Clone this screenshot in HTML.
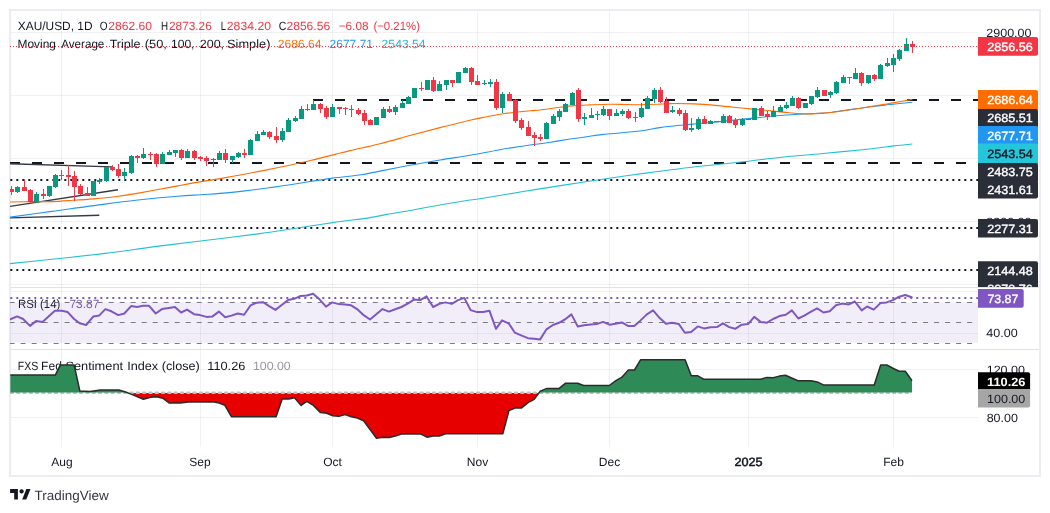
<!DOCTYPE html>
<html lang="en"><head><meta charset="utf-8"><title>XAU/USD chart</title>
<style>
html,body{margin:0;padding:0;background:#ffffff;}
body{width:1050px;height:513px;overflow:hidden;font-family:"Liberation Sans", sans-serif;}
svg{display:block;}
svg text{text-rendering:geometricPrecision;filter:url(#aa);}
</style></head><body>
<svg width="1050" height="513" viewBox="0 0 1050 513" font-family='"Liberation Sans", sans-serif' font-size="12">
<defs>
<clipPath id="cpMain"><rect x="10" y="10" width="968" height="277"/></clipPath>
<clipPath id="cpRsi"><rect x="10" y="288" width="968" height="61"/></clipPath>
<clipPath id="cpSent"><rect x="10" y="350" width="968" height="96.5"/></clipPath>
<clipPath id="cpAxisMain"><rect x="978" y="10" width="62" height="277"/></clipPath>
<clipPath id="cpUp"><rect x="0" y="340" width="1050" height="52.6"/></clipPath>
<clipPath id="cpDn"><rect x="0" y="393" width="1050" height="60"/></clipPath>
<filter id="aa" x="-5%" y="-50%" width="110%" height="200%" color-interpolation-filters="sRGB"><feOffset dx="0" dy="0"/></filter>
</defs>
<rect width="1050" height="513" fill="#ffffff"/>
<g stroke="#2a2e39" stroke-opacity="0.065" stroke-width="1" shape-rendering="crispEdges">
<line x1="61.5" y1="10" x2="61.5" y2="446.5"/>
<line x1="200.5" y1="10" x2="200.5" y2="446.5"/>
<line x1="332.5" y1="10" x2="332.5" y2="446.5"/>
<line x1="477.5" y1="10" x2="477.5" y2="446.5"/>
<line x1="609.5" y1="10" x2="609.5" y2="446.5"/>
<line x1="748.5" y1="10" x2="748.5" y2="446.5"/>
<line x1="893.5" y1="10" x2="893.5" y2="446.5"/>
<line x1="10" y1="32.5" x2="978" y2="32.5"/>
<line x1="10" y1="95.5" x2="978" y2="95.5"/>
<line x1="10" y1="158.5" x2="978" y2="158.5"/>
<line x1="10" y1="221.5" x2="978" y2="221.5"/>
<line x1="10" y1="284.5" x2="978" y2="284.5"/>
<line x1="10" y1="291.5" x2="978" y2="291.5"/>
<line x1="10" y1="333.5" x2="978" y2="333.5"/>
<line x1="10" y1="369.5" x2="978" y2="369.5"/>
<line x1="10" y1="417.5" x2="978" y2="417.5"/>
</g>
<g stroke="#e0e3eb" stroke-width="1" shape-rendering="crispEdges">
<line x1="10" y1="287.5" x2="1040" y2="287.5"/>
<line x1="10" y1="349.5" x2="1040" y2="349.5"/>
</g>
<rect x="10" y="10" width="1030" height="466" fill="none" stroke="#ebedf2" stroke-width="2"/>
<text x="17.8" y="30" fill="#131722" textLength="74.7" lengthAdjust="spacingAndGlyphs" >XAU/USD, 1D</text>
<text x="99.7" y="30" fill="#131722" textLength="7.8" lengthAdjust="spacingAndGlyphs" >O</text>
<text x="108.3" y="30" fill="#f23645" textLength="43.7" lengthAdjust="spacingAndGlyphs" >2862.60</text>
<text x="160.9" y="30" fill="#131722" textLength="7.1" lengthAdjust="spacingAndGlyphs" >H</text>
<text x="169" y="30" fill="#f23645" textLength="42.8" lengthAdjust="spacingAndGlyphs" >2873.26</text>
<text x="220.8" y="30" fill="#131722" textLength="5.2" lengthAdjust="spacingAndGlyphs" >L</text>
<text x="226.8" y="30" fill="#f23645" textLength="44.2" lengthAdjust="spacingAndGlyphs" >2834.20</text>
<text x="278.8" y="30" fill="#131722" textLength="7.6" lengthAdjust="spacingAndGlyphs" >C</text>
<text x="286.5" y="30" fill="#f23645" textLength="43.6" lengthAdjust="spacingAndGlyphs" >2856.56</text>
<text x="338.7" y="30" fill="#f23645" textLength="29.8" lengthAdjust="spacingAndGlyphs" >−6.08</text>
<text x="373.4" y="30" fill="#f23645" textLength="46.6" lengthAdjust="spacingAndGlyphs" >(−0.21%)</text>
<text x="17.5" y="48" fill="#131722" textLength="38.5" lengthAdjust="spacingAndGlyphs" >Moving</text>
<text x="61.3" y="48" fill="#131722" textLength="43" lengthAdjust="spacingAndGlyphs" >Average</text>
<text x="109.7" y="48" fill="#131722" textLength="30.8" lengthAdjust="spacingAndGlyphs" >Triple</text>
<text x="144.8" y="48" fill="#131722" textLength="22" lengthAdjust="spacingAndGlyphs" >(50,</text>
<text x="170.9" y="48" fill="#131722" textLength="23.6" lengthAdjust="spacingAndGlyphs" >100,</text>
<text x="199.7" y="48" fill="#131722" textLength="24.4" lengthAdjust="spacingAndGlyphs" >200,</text>
<text x="227.1" y="48" fill="#131722" textLength="43.3" lengthAdjust="spacingAndGlyphs" >Simple)</text>
<text x="277.8" y="48" fill="#ff6d00" textLength="43.8" lengthAdjust="spacingAndGlyphs" >2686.64</text>
<text x="329.6" y="48" fill="#2196f3" textLength="43.4" lengthAdjust="spacingAndGlyphs" >2677.71</text>
<text x="381.6" y="48" fill="#22b8ce" textLength="44" lengthAdjust="spacingAndGlyphs" >2543.54</text>
<g clip-path="url(#cpMain)">
<line x1="313" y1="100" x2="978" y2="100" stroke="#131722" stroke-width="2" stroke-dasharray="10 12"/>
<line x1="10" y1="163" x2="978" y2="163" stroke="#131722" stroke-width="2" stroke-dasharray="10 12"/>
<line x1="10.3" y1="180" x2="978" y2="180" stroke="#131722" stroke-width="2" stroke-dasharray="2 4"/>
<line x1="10.3" y1="228" x2="978" y2="228" stroke="#131722" stroke-width="2" stroke-dasharray="2 4"/>
<line x1="10.3" y1="270" x2="978" y2="270" stroke="#131722" stroke-width="2" stroke-dasharray="2 4"/>
<g stroke="#363a45" stroke-width="1.4" fill="none">
<line x1="10" y1="163.8" x2="112" y2="166.9"/>
<line x1="10" y1="206.4" x2="118" y2="189.8"/>
<line x1="10" y1="217.9" x2="99.3" y2="215.3"/>
</g>
<path d="M10.0,263.6C18.5,262.7 45.3,260.0 61.2,258.3C77.1,256.6 89.9,255.3 105.2,253.4C120.5,251.5 137.0,249.0 152.9,246.9C168.8,244.8 182.7,243.2 200.5,241.0C218.3,238.8 244.1,235.7 260.0,233.6C275.9,231.5 283.6,230.1 295.7,228.3C307.8,226.5 320.3,224.4 332.7,222.6C345.1,220.8 360.9,219.0 370.0,217.6C379.1,216.2 380.4,215.6 387.1,214.4C393.8,213.2 402.4,211.9 410.0,210.5C417.6,209.1 422.9,207.9 432.9,206.2C442.9,204.4 462.1,201.2 470.0,200.0C477.9,198.8 471.4,200.2 480.0,198.8C488.6,197.4 507.9,194.1 521.9,191.8C535.9,189.5 549.2,187.4 563.8,185.1C578.4,182.8 595.3,180.2 609.3,178.2C623.3,176.2 632.5,174.9 647.6,172.9C662.7,170.9 683.2,168.2 700.0,166.3C716.8,164.4 734.6,162.8 748.6,161.2C762.6,159.6 770.9,158.3 783.8,157.0C796.6,155.7 811.7,154.5 825.7,153.2C839.7,151.9 856.2,150.4 867.6,149.2C879.0,148.0 886.3,146.8 893.8,145.9C901.2,145.0 909.2,144.3 912.3,144.0" fill="none" stroke="#22c1d6" stroke-width="1.1"/>
<path d="M10.0,217.1C17.0,216.2 37.9,213.3 51.9,211.4C65.9,209.5 79.8,207.4 93.8,205.6C107.8,203.8 121.7,201.9 135.7,200.3C149.7,198.8 166.8,197.2 177.6,196.3C188.4,195.4 193.6,195.2 200.7,194.7C207.8,194.2 213.0,194.0 220.0,193.4C227.0,192.8 235.3,192.0 242.9,191.1C250.5,190.2 258.1,189.2 265.7,188.2C273.3,187.2 281.0,186.2 288.6,185.0C296.2,183.8 304.0,182.5 311.4,181.3C318.8,180.2 324.7,179.2 332.7,178.1C340.7,177.0 351.5,176.2 359.4,175.0C367.3,173.8 371.6,172.7 380.0,171.1C388.4,169.5 400.0,167.2 410.0,165.3C420.0,163.5 430.0,161.7 440.0,160.0C450.0,158.3 460.0,157.0 470.0,155.3C480.0,153.6 490.0,151.4 500.0,149.7C510.0,148.0 523.3,146.0 530.0,145.0C536.7,144.0 535.0,144.5 540.0,143.8C545.0,143.1 551.7,141.9 560.0,140.6C568.3,139.3 582.5,137.2 590.0,136.2C597.5,135.1 596.7,135.2 605.0,134.3C613.3,133.4 630.8,132.1 640.0,131.0C649.2,129.9 652.8,128.6 660.0,127.6C667.2,126.6 676.3,125.7 683.0,125.0C689.7,124.3 693.8,124.1 700.0,123.5C706.2,122.9 711.9,122.4 720.0,121.6C728.1,120.8 739.1,119.6 748.6,118.6C758.1,117.6 768.4,116.5 777.1,115.8C785.8,115.0 793.0,114.6 801.0,114.1C809.0,113.6 818.8,113.4 824.8,113.0C830.8,112.6 830.8,112.3 836.7,111.5C842.7,110.7 852.6,109.3 860.5,108.2C868.4,107.1 878.9,105.8 884.3,105.1C889.7,104.4 888.3,104.7 893.0,104.2C897.7,103.7 909.1,102.5 912.3,102.2" fill="none" stroke="#2196f3" stroke-width="1.1"/>
<path d="M10.0,202.0C13.5,201.9 24.0,201.7 31.0,201.6C38.0,201.5 44.9,201.8 51.9,201.6C58.9,201.4 65.9,200.8 72.9,200.3C79.9,199.9 86.8,199.5 93.8,198.9C100.8,198.3 107.8,197.7 114.8,196.8C121.8,195.9 128.7,194.8 135.7,193.6C142.7,192.4 149.7,191.1 156.7,189.8C163.7,188.5 170.6,187.2 177.6,185.9C184.6,184.6 191.5,183.3 198.6,182.1C205.7,180.9 212.6,179.9 220.0,178.6C227.4,177.3 235.3,175.9 242.9,174.5C250.5,173.1 258.1,171.6 265.7,170.1C273.3,168.6 281.0,167.1 288.6,165.5C296.2,163.9 303.8,162.1 311.4,160.3C319.0,158.5 327.9,156.2 334.3,154.6C340.7,153.0 342.4,152.4 350.0,150.6C357.6,148.8 370.0,146.2 380.0,143.7C390.0,141.2 400.0,138.2 410.0,135.5C420.0,132.8 430.0,130.2 440.0,127.6C450.0,125.0 462.4,122.0 470.0,120.2C477.6,118.4 479.9,118.1 485.7,117.0C491.5,115.9 497.6,114.5 505.0,113.5C512.4,112.5 524.2,111.4 530.0,110.8C535.8,110.2 535.0,110.6 540.0,110.0C545.0,109.4 554.2,107.9 560.0,107.2C565.8,106.5 570.0,106.0 575.0,105.6C580.0,105.2 584.3,105.1 590.0,104.9C595.7,104.7 603.2,104.4 609.0,104.3C614.8,104.2 619.8,104.4 625.0,104.5C630.2,104.6 634.7,104.7 640.0,104.7C645.3,104.7 651.7,104.5 656.7,104.3C661.7,104.1 663.8,103.7 670.0,103.6C676.2,103.5 685.9,103.6 693.8,103.9C701.7,104.2 709.7,104.9 717.6,105.6C725.5,106.3 733.5,107.2 741.4,108.0C749.3,108.8 757.3,109.5 765.2,110.3C773.1,111.1 781.9,112.1 789.0,112.7C796.1,113.3 802.1,113.9 808.1,113.9C814.1,114.0 819.2,113.5 824.8,113.0C830.3,112.5 835.4,111.8 841.4,111.0C847.4,110.2 853.4,109.3 860.5,108.2C867.6,107.1 878.9,105.3 884.3,104.4C889.7,103.5 888.3,103.7 893.0,102.9C897.7,102.1 909.1,100.0 912.3,99.4" fill="none" stroke="#ff6d00" stroke-width="1.1"/>
<path d="M906,38.0h1V51.0h-1zM904,44.0h5V51.0h-5zM899,49.0h1V61.0h-1zM897,50.0h5V59.0h-5zM893,54.0h1V72.0h-1zM891,58.0h5V65.0h-5zM887,58.0h1V67.0h-1zM885,63.0h5V66.0h-5zM880,64.0h1V79.0h-1zM878,65.0h5V79.0h-5zM868,75.0h1V84.0h-1zM866,75.0h5V83.0h-5zM855,68.0h1V79.0h-1zM853,73.0h5V79.0h-5zM843,75.0h1V83.0h-1zM841,77.0h5V83.0h-5zM836,81.0h1V94.0h-1zM834,82.0h5V93.0h-5zM830,91.0h1V98.0h-1zM828,92.0h5V95.0h-5zM817,87.0h1V98.0h-1zM815,90.0h5V97.0h-5zM811,96.0h1V105.0h-1zM809,96.0h5V104.0h-5zM805,103.0h1V108.0h-1zM803,103.0h5V108.0h-5zM792,96.0h1V106.0h-1zM790,98.0h5V106.0h-5zM786,102.0h1V109.0h-1zM784,105.0h5V108.0h-5zM780,105.0h1V112.0h-1zM778,107.0h5V112.0h-5zM773,106.0h1V117.0h-1zM771,111.0h5V117.0h-5zM754,108.0h1V120.0h-1zM752,108.0h5V120.0h-5zM748,119.0h1V120.0h-1zM746,119.0h5V120.0h-5zM742,118.0h1V126.0h-1zM740,119.0h5V125.0h-5zM723,114.0h1V123.0h-1zM721,116.0h5V123.0h-5zM716,121.0h1V122.0h-1zM714,121.0h5V122.0h-5zM710,120.0h1V124.0h-1zM708,121.0h5V124.0h-5zM698,117.0h1V130.0h-1zM696,119.0h5V129.0h-5zM691,118.0h1V132.0h-1zM689,128.0h5V130.0h-5zM672,106.0h1V113.0h-1zM670,110.0h5V112.0h-5zM654,88.0h1V103.0h-1zM652,90.0h5V99.0h-5zM647,96.0h1V109.0h-1zM645,98.0h5V109.0h-5zM641,103.0h1V118.0h-1zM639,108.0h5V117.0h-5zM635,112.0h1V122.0h-1zM633,117.0h5V118.0h-5zM622,109.0h1V116.0h-1zM620,111.0h5V114.0h-5zM616,109.0h1V116.0h-1zM614,113.0h5V116.0h-5zM603,106.0h1V116.0h-1zM601,109.0h5V115.0h-5zM597,111.0h1V120.0h-1zM595,114.0h5V115.0h-5zM591,108.0h1V118.0h-1zM589,115.0h5V118.0h-5zM584,113.0h1V125.0h-1zM582,117.0h5V119.0h-5zM572,92.0h1V105.0h-1zM570,93.0h5V105.0h-5zM565,103.0h1V112.0h-1zM563,104.0h5V112.0h-5zM559,109.0h1V121.0h-1zM557,111.0h5V117.0h-5zM553,114.0h1V124.0h-1zM551,116.0h5V124.0h-5zM546,122.0h1V139.0h-1zM544,123.0h5V139.0h-5zM502,92.0h1V113.0h-1zM500,94.0h5V108.0h-5zM490,79.0h1V87.0h-1zM488,82.0h5V84.0h-5zM484,80.0h1V85.0h-1zM482,83.0h5V84.0h-5zM465,67.0h1V73.0h-1zM463,68.0h5V73.0h-5zM458,72.0h1V83.0h-1zM456,72.0h5V83.0h-5zM446,80.0h1V90.0h-1zM444,80.0h5V85.0h-5zM439,81.0h1V91.0h-1zM437,84.0h5V91.0h-5zM427,80.0h1V90.0h-1zM425,80.0h5V90.0h-5zM414,88.0h1V98.0h-1zM412,88.0h5V98.0h-5zM408,96.0h1V104.0h-1zM406,97.0h5V104.0h-5zM402,100.0h1V108.0h-1zM400,103.0h5V108.0h-5zM395,105.0h1V115.0h-1zM393,107.0h5V112.0h-5zM383,107.0h1V118.0h-1zM381,109.0h5V118.0h-5zM376,117.0h1V125.0h-1zM374,117.0h5V125.0h-5zM332,104.0h1V117.0h-1zM330,107.0h5V117.0h-5zM313,100.0h1V110.0h-1zM311,104.0h5V110.0h-5zM301,106.0h1V119.0h-1zM299,109.0h5V119.0h-5zM295,116.0h1V122.0h-1zM293,118.0h5V121.0h-5zM288,118.0h1V132.0h-1zM286,120.0h5V132.0h-5zM282,128.0h1V142.0h-1zM280,131.0h5V140.0h-5zM263,130.0h1V135.0h-1zM261,132.0h5V135.0h-5zM257,131.0h1V141.0h-1zM255,134.0h5V141.0h-5zM250,139.0h1V155.0h-1zM248,140.0h5V155.0h-5zM238,152.0h1V158.0h-1zM236,153.0h5V157.0h-5zM232,156.0h1V163.0h-1zM230,156.0h5V160.0h-5zM219,151.0h1V160.0h-1zM217,153.0h5V160.0h-5zM213,158.0h1V167.0h-1zM211,159.0h5V160.0h-5zM187,149.0h1V158.0h-1zM185,151.0h5V158.0h-5zM175,150.0h1V157.0h-1zM173,150.0h5V153.0h-5zM169,150.0h1V155.0h-1zM167,152.0h5V155.0h-5zM162,152.0h1V164.0h-1zM160,154.0h5V164.0h-5zM143,148.0h1V159.0h-1zM141,154.0h5V158.0h-5zM131,155.0h1V174.0h-1zM129,156.0h5V173.0h-5zM124,168.0h1V180.0h-1zM122,172.0h5V176.0h-5zM106,167.0h1V182.0h-1zM104,167.0h5V181.0h-5zM99,178.0h1V184.0h-1zM97,180.0h5V182.0h-5zM93,181.0h1V196.0h-1zM91,181.0h5V196.0h-5zM55,174.0h1V188.0h-1zM53,175.0h5V187.0h-5zM49,186.0h1V197.0h-1zM47,186.0h5V196.0h-5zM36,192.0h1V203.0h-1zM34,194.0h5V202.0h-5zM17,186.0h1V193.0h-1zM15,187.0h5V192.0h-5z" fill="#089981"/>
<path d="M912,41.0h1V53.0h-1zM910,44.0h5V47.0h-5zM874,74.0h1V81.0h-1zM872,75.0h5V79.0h-5zM861,72.0h1V86.0h-1zM859,73.0h5V83.0h-5zM849,77.0h1V84.0h-1zM847,77.0h5V78.0h-5zM824,90.0h1V96.0h-1zM822,90.0h5V96.0h-5zM798,97.0h1V109.0h-1zM796,98.0h5V108.0h-5zM767,111.0h1V120.0h-1zM765,114.0h5V117.0h-5zM761,106.0h1V116.0h-1zM759,108.0h5V116.0h-5zM735,118.0h1V128.0h-1zM733,120.0h5V125.0h-5zM729,115.0h1V123.0h-1zM727,116.0h5V123.0h-5zM704,116.0h1V124.0h-1zM702,119.0h5V124.0h-5zM685,110.0h1V131.0h-1zM683,113.0h5V130.0h-5zM679,108.0h1V116.0h-1zM677,110.0h5V114.0h-5zM666,97.0h1V113.0h-1zM664,101.0h5V113.0h-5zM660,87.0h1V103.0h-1zM658,90.0h5V102.0h-5zM628,109.0h1V119.0h-1zM626,111.0h5V118.0h-5zM609,109.0h1V120.0h-1zM607,109.0h5V116.0h-5zM578,88.0h1V122.0h-1zM576,90.0h5V119.0h-5zM540,134.0h1V141.0h-1zM538,137.0h5V139.0h-5zM534,132.0h1V146.0h-1zM532,135.0h5V138.0h-5zM528,121.0h1V136.0h-1zM526,127.0h5V136.0h-5zM521,118.0h1V130.0h-1zM519,120.0h5V128.0h-5zM515,99.0h1V123.0h-1zM513,100.0h5V121.0h-5zM509,92.0h1V101.0h-1zM507,94.0h5V101.0h-5zM496,79.0h1V110.0h-1zM494,82.0h5V108.0h-5zM477,75.0h1V85.0h-1zM475,81.0h5V85.0h-5zM471,67.0h1V85.0h-1zM469,68.0h5V82.0h-5zM452,80.0h1V87.0h-1zM450,80.0h5V83.0h-5zM433,77.0h1V92.0h-1zM431,80.0h5V91.0h-5zM421,82.0h1V91.0h-1zM419,88.0h5V89.0h-5zM389,106.0h1V113.0h-1zM387,109.0h5V112.0h-5zM370,119.0h1V125.0h-1zM368,120.0h5V125.0h-5zM364,110.0h1V125.0h-1zM362,113.0h5V121.0h-5zM358,108.0h1V115.0h-1zM356,110.0h5V114.0h-5zM351,105.0h1V117.0h-1zM349,109.0h5V110.0h-5zM345,107.0h1V115.0h-1zM343,108.0h5V109.0h-5zM339,107.0h1V114.0h-1zM337,107.0h5V109.0h-5zM326,106.0h1V119.0h-1zM324,108.0h5V117.0h-5zM320,103.0h1V113.0h-1zM318,104.0h5V109.0h-5zM307,104.0h1V111.0h-1zM305,109.0h5V110.0h-5zM276,127.0h1V143.0h-1zM274,136.0h5V140.0h-5zM269,131.0h1V139.0h-1zM267,132.0h5V137.0h-5zM244,149.0h1V158.0h-1zM242,153.0h5V155.0h-5zM225,149.0h1V163.0h-1zM223,153.0h5V160.0h-5zM206,156.0h1V166.0h-1zM204,158.0h5V161.0h-5zM200,156.0h1V161.0h-1zM198,157.0h5V159.0h-5zM194,150.0h1V160.0h-1zM192,151.0h5V158.0h-5zM181,149.0h1V160.0h-1zM179,150.0h5V158.0h-5zM156,153.0h1V167.0h-1zM154,154.0h5V164.0h-5zM150,152.0h1V160.0h-1zM148,154.0h5V155.0h-5zM137,155.0h1V163.0h-1zM135,156.0h5V158.0h-5zM118,164.0h1V178.0h-1zM116,169.0h5V176.0h-5zM112,165.0h1V171.0h-1zM110,167.0h5V170.0h-5zM87,187.0h1V196.0h-1zM85,193.0h5V196.0h-5zM80,184.0h1V195.0h-1zM78,186.0h5V194.0h-5zM74,171.0h1V201.0h-1zM72,176.0h5V187.0h-5zM68,165.0h1V186.0h-1zM66,175.0h5V177.0h-5zM61,170.0h1V180.0h-1zM59,175.0h5V176.0h-5zM43,189.0h1V199.0h-1zM41,194.0h5V196.0h-5zM30,189.0h1V204.0h-1zM28,190.0h5V202.0h-5zM24,179.0h1V191.0h-1zM22,187.0h5V191.0h-5zM11,186.0h1V195.0h-1zM9,189.0h5V192.0h-5z" fill="#f23645"/>
<line x1="10" y1="46.5" x2="978" y2="46.5" stroke="#f23645" stroke-width="1" stroke-dasharray="1 2"/>
</g>
<text x="18" y="308" fill="#131722" textLength="42.3" lengthAdjust="spacingAndGlyphs" >RSI (14)</text>
<text x="69.4" y="308" fill="#7e57c2" textLength="30" lengthAdjust="spacingAndGlyphs" >73.87</text>
<g clip-path="url(#cpRsi)">
<rect x="10" y="302.4" width="968" height="40.4" fill="#7e57c2" fill-opacity="0.1"/>
<line x1="9.6" y1="302.5" x2="978" y2="302.5" stroke="#787b86" stroke-width="1" stroke-dasharray="5 6.006"/>
<line x1="9.6" y1="322.5" x2="978" y2="322.5" stroke="#787b86" stroke-width="1" stroke-dasharray="5 6.006"/>
<line x1="9.6" y1="343.5" x2="978" y2="343.5" stroke="#787b86" stroke-width="1" stroke-dasharray="5 6.006"/>
<line x1="10.3" y1="298" x2="978" y2="298" stroke="#7e57c2" stroke-width="2" stroke-dasharray="2 4"/>
<polyline points="10.3,319.3 17.1,316.4 23.1,319.0 30.0,325.9 36.0,321.1 42.5,322.1 54.9,310.8 61.7,310.8 67.7,312.1 74.1,319.0 79.7,323.3 86.2,325.0 93.4,316.4 99.1,315.6 105.4,309.1 111.4,311.3 118.3,315.1 124.3,313.5 131.1,306.1 137.1,307.0 143.1,305.8 149.1,305.8 155.7,313.5 162.0,309.1 168.9,307.9 174.9,307.0 181.1,312.5 187.1,309.6 194.0,314.2 200.0,315.1 206.5,316.9 212.5,316.4 218.9,311.6 225.2,317.3 231.4,315.6 237.7,313.5 244.1,314.7 250.6,305.3 256.6,302.7 263.1,302.2 269.1,306.1 275.4,309.9 281.4,305.3 288.0,300.1 294.3,298.8 300.6,295.9 306.8,295.5 313.1,293.8 319.5,299.3 326.0,306.7 332.0,302.4 338.9,304.1 344.9,304.6 351.1,305.3 357.1,309.1 363.7,315.2 370.0,319.5 376.3,314.2 382.5,309.1 388.9,311.6 395.2,309.2 401.4,307.0 407.7,303.6 414.1,299.6 420.2,300.1 426.6,296.4 433.1,307.0 439.4,303.9 445.4,302.4 451.8,303.9 458.0,300.1 464.3,297.9 470.6,310.1 477.1,312.1 483.1,312.1 489.5,310.8 496.0,328.8 502.0,320.4 508.9,323.6 514.9,332.7 521.1,335.3 528.0,338.2 534.0,338.7 540.0,339.6 546.5,329.3 552.9,325.0 558.9,322.8 564.9,319.5 571.4,314.4 577.7,326.4 584.1,325.3 590.6,324.5 596.6,324.1 603.1,321.9 609.4,324.7 615.4,323.8 621.8,322.4 628.0,325.9 634.3,325.9 640.6,320.4 646.8,314.4 653.1,310.4 659.7,318.1 666.0,323.8 672.0,322.8 678.9,324.1 684.9,332.7 691.1,331.9 697.7,326.4 704.0,328.4 710.5,327.2 716.9,327.1 722.9,323.3 729.2,327.1 735.2,328.8 741.7,324.7 748.1,324.1 754.2,316.8 760.6,321.9 766.6,322.8 773.1,319.0 779.4,316.1 785.8,314.7 791.9,310.4 798.3,318.5 804.3,315.6 810.6,311.8 817.1,308.4 823.5,312.5 829.7,311.3 836.0,305.3 842.0,303.6 848.9,304.4 854.9,301.5 861.7,310.4 867.1,306.5 873.7,309.6 880.5,303.1 886.5,302.4 892.9,300.1 899.2,296.7 905.2,295.0 911.7,297.2" fill="none" stroke="#7e57c2" stroke-width="2" stroke-linejoin="round" stroke-linecap="round"/>
</g>
<text x="17.8" y="370" fill="#131722" textLength="20.5" lengthAdjust="spacingAndGlyphs" >FXS</text>
<text x="41.1" y="370" fill="#131722" textLength="20.8" lengthAdjust="spacingAndGlyphs" >Fed</text>
<text x="65.4" y="370" fill="#131722" textLength="57.7" lengthAdjust="spacingAndGlyphs" >Sentiment</text>
<text x="127.2" y="370" fill="#131722" textLength="31" lengthAdjust="spacingAndGlyphs" >Index</text>
<text x="161.8" y="370" fill="#131722" textLength="38" lengthAdjust="spacingAndGlyphs" >(close)</text>
<text x="207.3" y="370" fill="#131722" textLength="38" lengthAdjust="spacingAndGlyphs" >110.26</text>
<text x="252.9" y="370" fill="#9598a1" textLength="37.8" lengthAdjust="spacingAndGlyphs" >100.00</text>
<g clip-path="url(#cpSent)">
<g clip-path="url(#cpDn)"><polygon points="10.3,393.0 10.3,375.1 55.3,375.1 60.4,364.9 74.1,364.9 79.9,391.1 90.1,391.5 100.3,390.1 118.8,390.1 124.9,391.7 131.1,394.1 143.4,399.3 150.5,397.2 156.7,396.8 162.8,398.2 169.0,403.0 180.2,403.0 188.4,401.9 214.0,401.9 219.1,403.0 224.9,405.4 231.4,416.7 276.1,416.7 282.2,398.9 288.8,398.9 294.5,397.8 301.1,405.4 306.8,401.3 313.4,405.4 320.5,412.6 326.7,413.2 332.8,415.7 339.0,416.3 345.1,414.6 351.3,416.7 357.4,418.1 363.6,420.8 376.5,438.2 383.0,437.2 389.2,437.6 395.3,436.1 401.4,434.1 420.9,434.1 427.0,437.2 433.2,436.1 439.3,436.1 445.5,433.7 502.8,433.7 509.0,410.5 515.1,408.1 521.3,408.1 528.4,402.3 534.2,399.3 540.3,391.1 546.9,388.4 559.2,388.4 565.3,383.3 577.6,383.3 583.7,385.5 609.3,385.5 615.5,380.8 621.6,377.4 628.4,370.0 634.5,370.0 640.7,359.7 685.1,359.7 691.3,375.7 697.4,375.7 703.6,379.2 760.9,379.2 767.0,377.4 773.2,377.8 779.3,376.1 785.5,375.3 797.8,380.8 811.1,380.8 817.2,381.9 823.4,384.9 874.2,384.9 880.7,364.9 886.8,364.9 893.4,368.5 899.1,371.2 905.3,371.2 912.0,380.8 912.0,393.0" fill="#e60000"/></g>
<line x1="10.85" y1="392.8" x2="912" y2="392.8" stroke="#c0c0c0" stroke-width="2.4" stroke-linecap="round" stroke-dasharray="2 4.302"/>
<g clip-path="url(#cpUp)"><polygon points="10.3,393.0 10.3,375.1 55.3,375.1 60.4,364.9 74.1,364.9 79.9,391.1 90.1,391.5 100.3,390.1 118.8,390.1 124.9,391.7 131.1,394.1 143.4,399.3 150.5,397.2 156.7,396.8 162.8,398.2 169.0,403.0 180.2,403.0 188.4,401.9 214.0,401.9 219.1,403.0 224.9,405.4 231.4,416.7 276.1,416.7 282.2,398.9 288.8,398.9 294.5,397.8 301.1,405.4 306.8,401.3 313.4,405.4 320.5,412.6 326.7,413.2 332.8,415.7 339.0,416.3 345.1,414.6 351.3,416.7 357.4,418.1 363.6,420.8 376.5,438.2 383.0,437.2 389.2,437.6 395.3,436.1 401.4,434.1 420.9,434.1 427.0,437.2 433.2,436.1 439.3,436.1 445.5,433.7 502.8,433.7 509.0,410.5 515.1,408.1 521.3,408.1 528.4,402.3 534.2,399.3 540.3,391.1 546.9,388.4 559.2,388.4 565.3,383.3 577.6,383.3 583.7,385.5 609.3,385.5 615.5,380.8 621.6,377.4 628.4,370.0 634.5,370.0 640.7,359.7 685.1,359.7 691.3,375.7 697.4,375.7 703.6,379.2 760.9,379.2 767.0,377.4 773.2,377.8 779.3,376.1 785.5,375.3 797.8,380.8 811.1,380.8 817.2,381.9 823.4,384.9 874.2,384.9 880.7,364.9 886.8,364.9 893.4,368.5 899.1,371.2 905.3,371.2 912.0,380.8 912.0,393.0" fill="#2e8b57"/></g>
<polyline points="10.3,375.1 55.3,375.1 60.4,364.9 74.1,364.9 79.9,391.1 90.1,391.5 100.3,390.1 118.8,390.1 124.9,391.7 131.1,394.1 143.4,399.3 150.5,397.2 156.7,396.8 162.8,398.2 169.0,403.0 180.2,403.0 188.4,401.9 214.0,401.9 219.1,403.0 224.9,405.4 231.4,416.7 276.1,416.7 282.2,398.9 288.8,398.9 294.5,397.8 301.1,405.4 306.8,401.3 313.4,405.4 320.5,412.6 326.7,413.2 332.8,415.7 339.0,416.3 345.1,414.6 351.3,416.7 357.4,418.1 363.6,420.8 376.5,438.2 383.0,437.2 389.2,437.6 395.3,436.1 401.4,434.1 420.9,434.1 427.0,437.2 433.2,436.1 439.3,436.1 445.5,433.7 502.8,433.7 509.0,410.5 515.1,408.1 521.3,408.1 528.4,402.3 534.2,399.3 540.3,391.1 546.9,388.4 559.2,388.4 565.3,383.3 577.6,383.3 583.7,385.5 609.3,385.5 615.5,380.8 621.6,377.4 628.4,370.0 634.5,370.0 640.7,359.7 685.1,359.7 691.3,375.7 697.4,375.7 703.6,379.2 760.9,379.2 767.0,377.4 773.2,377.8 779.3,376.1 785.5,375.3 797.8,380.8 811.1,380.8 817.2,381.9 823.4,384.9 874.2,384.9 880.7,364.9 886.8,364.9 893.4,368.5 899.1,371.2 905.3,371.2 912.0,380.8" fill="none" stroke="#2b2b2b" stroke-width="1.5" stroke-linejoin="round"/>
</g>
<g clip-path="url(#cpAxisMain)">
<text x="986.3" y="36.5" fill="#131722" textLength="45.2" lengthAdjust="spacingAndGlyphs" >2900.00</text>
<text x="986.3" y="226" fill="#131722" textLength="45.2" lengthAdjust="spacingAndGlyphs" >2300.00</text>
<path d="M978,37H1036a2,2 0 0 1 2,2V53.75a2,2 0 0 1 -2,2H978z" fill="#f23645"/>
<text x="987.2" y="50.8" fill="#ffffff" stroke="#ffffff" stroke-width="0.35" textLength="45.6" lengthAdjust="spacingAndGlyphs">2856.56</text>
<path d="M978,90H1036a2,2 0 0 1 2,2V109a2,2 0 0 1 -2,2H978z" fill="#ff6d00"/>
<text x="987.2" y="104.0" fill="#ffffff" stroke="#ffffff" stroke-width="0.35" textLength="45.6" lengthAdjust="spacingAndGlyphs">2686.64</text>
<path d="M978,109H1036a2,2 0 0 1 2,2V126a2,2 0 0 1 -2,2H978z" fill="#2a2e39"/>
<text x="987.2" y="121.6" fill="#ffffff" stroke="#ffffff" stroke-width="0.35" textLength="45.6" lengthAdjust="spacingAndGlyphs">2685.51</text>
<path d="M978,126H1036a2,2 0 0 1 2,2V143.5a2,2 0 0 1 -2,2H978z" fill="#2196f3"/>
<text x="987.2" y="139.8" fill="#ffffff" stroke="#ffffff" stroke-width="0.35" textLength="45.6" lengthAdjust="spacingAndGlyphs">2677.71</text>
<path d="M978,143.5H1036a2,2 0 0 1 2,2V163a2,2 0 0 1 -2,2H978z" fill="#26c6da"/>
<text x="987.2" y="158.0" fill="#131722" stroke="#131722" stroke-width="0.35" textLength="45.6" lengthAdjust="spacingAndGlyphs">2543.54</text>
<path d="M978,163H1036a2,2 0 0 1 2,2V180.4a2,2 0 0 1 -2,2H978z" fill="#2a2e39"/>
<text x="987.2" y="175.7" fill="#ffffff" stroke="#ffffff" stroke-width="0.35" textLength="45.6" lengthAdjust="spacingAndGlyphs">2483.75</text>
<path d="M978,180.4H1036a2,2 0 0 1 2,2V196.5a2,2 0 0 1 -2,2H978z" fill="#2a2e39"/>
<text x="987.2" y="194.1" fill="#ffffff" stroke="#ffffff" stroke-width="0.35" textLength="45.6" lengthAdjust="spacingAndGlyphs">2431.61</text>
<path d="M978,218.9H1036a2,2 0 0 1 2,2V235.4a2,2 0 0 1 -2,2H978z" fill="#2a2e39"/>
<text x="987.2" y="232.9" fill="#ffffff" stroke="#ffffff" stroke-width="0.35" textLength="45.6" lengthAdjust="spacingAndGlyphs">2277.31</text>
<path d="M978,277H1036a2,2 0 0 1 2,2V296a2,2 0 0 1 -2,2H978z" fill="#2a2e39"/>
<text x="987.2" y="292.8" fill="#ffffff" stroke="#ffffff" stroke-width="0.35" textLength="45.6" lengthAdjust="spacingAndGlyphs">2079.76</text>
<path d="M978,261.3H1036a2,2 0 0 1 2,2V279.6a2,2 0 0 1 -2,2H978z" fill="#2a2e39"/>
<text x="987.2" y="275.2" fill="#ffffff" stroke="#ffffff" stroke-width="0.35" textLength="45.6" lengthAdjust="spacingAndGlyphs">2144.48</text>
</g>
<path d="M978,289.1H1021.7a2,2 0 0 1 2,2V305.8a2,2 0 0 1 -2,2H978z" fill="#7e57c2"/>
<text x="987.4" y="303.1" fill="#ffffff" stroke="#ffffff" stroke-width="0.35" textLength="31" lengthAdjust="spacingAndGlyphs">73.87</text>
<text x="986.3" y="337" fill="#131722" textLength="31.4" lengthAdjust="spacingAndGlyphs" >40.00</text>
<text x="986.7" y="373.5" fill="#131722" textLength="38.3" lengthAdjust="spacingAndGlyphs" >120.00</text>
<text x="986.7" y="422" fill="#131722" textLength="31.2" lengthAdjust="spacingAndGlyphs" >80.00</text>
<path d="M978,372.2H1028.1a2,2 0 0 1 2,2V391H978z" fill="#000000"/>
<text x="987" y="385.8" fill="#ffffff" font-weight="bold" textLength="38.5" lengthAdjust="spacingAndGlyphs">110.26</text>
<path d="M978,389H1030.1V405.5a2,2 0 0 1 -2,2H978z" fill="#a6a6a6"/>
<text x="987" y="402.5" fill="#131722" textLength="38.3" lengthAdjust="spacingAndGlyphs" >100.00</text>
<text x="62" y="466.3" fill="#131722" text-anchor="middle">Aug</text>
<text x="200" y="466.3" fill="#131722" text-anchor="middle">Sep</text>
<text x="332.5" y="466.3" fill="#131722" text-anchor="middle">Oct</text>
<text x="477.5" y="466.3" fill="#131722" text-anchor="middle">Nov</text>
<text x="609.5" y="466.3" fill="#131722" text-anchor="middle">Dec</text>
<text x="748.5" y="466.3" fill="#131722" text-anchor="middle" stroke="#131722" stroke-width="0.5" textLength="28.2" lengthAdjust="spacingAndGlyphs">2025</text>
<text x="893.5" y="466.3" fill="#131722" text-anchor="middle">Feb</text>
<g fill="#131722"><path d="M10.1,489.1H17.9V499.4H14.2V493H10.1z"/><circle cx="21.6" cy="491.4" r="2.15"/><path d="M26.3,489.1H30.5L26.3,499.4H22.2z"/></g>
<text x="34.6" y="499.6" fill="#131722" font-size="13.3" fill-opacity="0.88" textLength="74" lengthAdjust="spacingAndGlyphs">TradingView</text>
</svg>
</body></html>
